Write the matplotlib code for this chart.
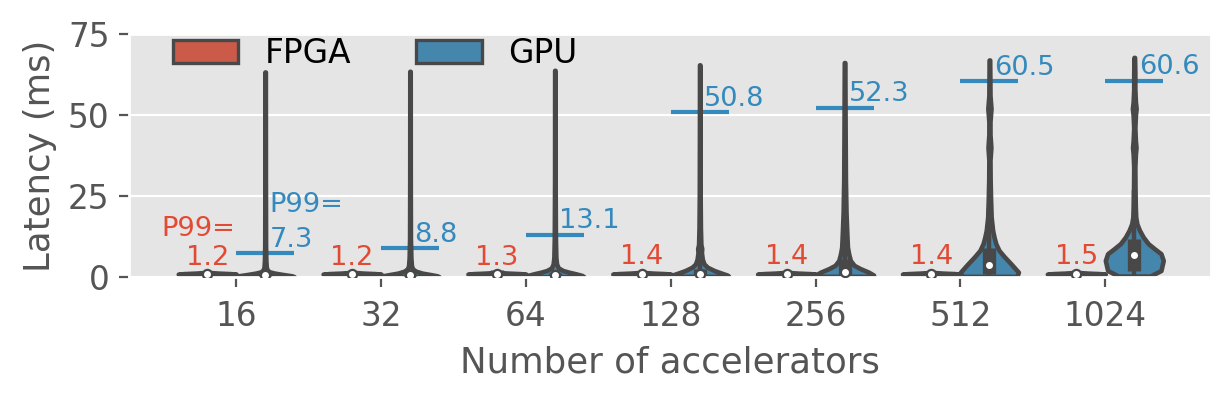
import matplotlib
matplotlib.use("Agg")
import matplotlib.pyplot as plt
import numpy as np
from matplotlib.patches import Patch

plt.style.use("ggplot")

# ---- data ----
accelerators = ["16", "32", "64", "128", "256", "512", "1024"]
fpga_p99 = [1.2, 1.2, 1.3, 1.4, 1.4, 1.4, 1.5]
gpu_p99 = [7.3, 8.8, 13.1, 50.8, 52.3, 60.5, 60.6]

fpga_median = [0.9, 0.9, 0.9, 1.0, 1.0, 1.0, 1.0]
fpga_q1 = [0.8, 0.8, 0.6, 0.85, 0.85, 0.85, 0.85]
fpga_q3 = [1.0, 1.0, 2.2, 1.1, 1.1, 1.1, 1.1]

gpu_median = [0.6, 0.6, 0.7, 0.8, 1.5, 3.8, 6.9]
gpu_q1 = [0.4, 0.4, 0.5, 0.5, 0.6, 0.8, 1.8]
gpu_q3 = [0.9, 1.0, 1.2, 2.5, 5.5, 9.0, 11.8]

# violin outlines: latency levels and relative density at each level
fpga_levels = [0.6, 0.75, 0.9, 1.05, 1.2, 1.35]
fpga_density = [0.5, 0.9, 1.0, 0.8, 0.4, 0.15]

gpu_levels = [
    [0.1, 0.4, 0.8, 1.2, 1.6, 2.2, 3, 5, 10, 30, 63.3],
    [0.1, 0.4, 0.8, 1.2, 1.8, 2.5, 3.5, 6, 12, 30, 63.5],
    [0.1, 0.5, 1.0, 1.5, 2.0, 2.8, 4, 6, 12, 30, 63.8],
    [0.2, 0.6, 1.2, 2.0, 3.0, 4.0, 5.5, 7.5, 8.8, 10, 15, 25, 45, 65.5],
    [0.2, 0.6, 1.5, 2.6, 3.6, 5.1, 7.2, 9.2, 13, 20, 30, 45, 66.2],
    [0.2, 1.5, 4.1, 6.2, 8.2, 10.3, 12.3, 14.4, 18.5, 24, 30, 36, 40, 44,
     48, 52, 56, 62, 67],
    [0.3, 2, 5.1, 7.2, 8.7, 10.3, 12.3, 14.4, 16.4, 18.5, 22, 28, 34, 38,
     40, 42, 46, 50, 52, 54, 58, 63, 67.8],
]
gpu_density = [
    [1.0, 0.9, 0.6, 0.33, 0.15, 0.07, 0.04, 0.025, 0.015, 0.01, 0.008],
    [1.0, 0.92, 0.68, 0.42, 0.2, 0.09, 0.05, 0.03, 0.015, 0.01, 0.008],
    [1.0, 0.93, 0.72, 0.48, 0.28, 0.12, 0.06, 0.035, 0.02, 0.01, 0.008],
    [1.0, 0.95, 0.75, 0.5, 0.27, 0.15, 0.09, 0.06, 0.07, 0.04, 0.025,
     0.015, 0.01, 0.008],
    [1.0, 1.0, 0.83, 0.54, 0.33, 0.2, 0.14, 0.1, 0.08, 0.05, 0.03, 0.02,
     0.01],
    [0.95, 1.0, 0.74, 0.52, 0.33, 0.22, 0.16, 0.11, 0.06, 0.04, 0.025,
     0.02, 0.05, 0.02, 0.02, 0.055, 0.02, 0.015, 0.01],
    [0.55, 0.92, 1.0, 0.92, 0.7, 0.48, 0.31, 0.18, 0.09, 0.05, 0.035,
     0.025, 0.02, 0.04, 0.06, 0.04, 0.02, 0.04, 0.065, 0.04, 0.02, 0.02,
     0.01],
]

# ---- style ----
fpga_col = "#CC5A49"
gpu_col = "#4586AC"
red_txt = "#E24A33"
blue_txt = "#348ABD"
gray = "#484848"

fig = plt.figure(figsize=(6.16, 1.98), dpi=200)
ax = fig.add_axes([0.1047, 0.3005, 0.983 - 0.1047, 0.914 - 0.3005])

x = np.arange(len(accelerators))
fpga_x = x - 0.2
gpu_x = x + 0.2


def draw_group(pos, levels, dens, med, q1, q3, color):
    stats = []
    for lv, dn, m in zip(levels, dens, med):
        stats.append(dict(coords=np.array(lv), vals=np.array(dn), mean=m,
                          median=m, min=lv[0], max=lv[-1]))
    parts = ax.violin(stats, positions=pos, widths=0.4, showmeans=False,
                      showextrema=False, showmedians=False)
    for b in parts["bodies"]:
        b.set_facecolor(color)
        b.set_edgecolor(gray)
        b.set_linewidth(1.65)
        b.set_alpha(1)
        b.set_joinstyle("round")
        b.set_zorder(2)
    for p, lv, m, a, c in zip(pos, levels, med, q1, q3):
        iqr = c - a
        lo = max(lv[0], a - 1.5 * iqr)
        hi = min(lv[-1], c + 1.5 * iqr)
        ax.vlines(p, lo, hi, color=gray, lw=1.6, zorder=3)
        ax.vlines(p, a, c, color=gray, lw=4.8, zorder=3)
    ax.scatter(pos, med, s=11, c="white", edgecolors=gray, linewidths=0.8,
               zorder=4)


draw_group(fpga_x, [fpga_levels] * len(x), [fpga_density] * len(x),
           fpga_median, fpga_q1, fpga_q3, fpga_col)
draw_group(gpu_x, gpu_levels, gpu_density, gpu_median, gpu_q1, gpu_q3,
           gpu_col)

# P99 markers and labels
ax.hlines(gpu_p99, gpu_x - 0.2, gpu_x + 0.2, color=blue_txt, lw=1.5,
          zorder=1.5)
for i in range(len(x)):
    ax.text(fpga_x[i], fpga_p99[i] + 2.5, f"{fpga_p99[i]}", color=red_txt,
            fontsize=9.8, ha="center", va="baseline", zorder=5)
    ax.text(gpu_x[i] + 0.03, gpu_p99[i] + 2.0, f"{gpu_p99[i]}",
            color=blue_txt, fontsize=9.8, ha="left", va="baseline", zorder=5)
ax.text(fpga_x[0] - 0.064, 12.6, "P99=", color=red_txt, fontsize=9.8,
        ha="center", va="baseline", zorder=5)
ax.text(gpu_x[0] + 0.028, 20.0, "P99=", color=blue_txt, fontsize=9.8,
        ha="left", va="baseline", zorder=5)

ax.set_xlim(-0.74, 6.73)
ax.set_ylim(0, 75)
ax.set_yticks([0, 25, 50, 75])
ax.set_xticks(x)
ax.set_xticklabels(accelerators)
ax.tick_params(labelsize=11.8, colors="#555555")
ax.tick_params(axis="x", pad=4.8)
ax.xaxis.grid(False)
ax.set_xlabel("Number of accelerators", fontsize=12.8, color="#555555",
              labelpad=4.5)
ax.set_ylabel("Latency (ms)", fontsize=12.8, color="#555555")

handles = [Patch(facecolor=fpga_col, edgecolor=gray, lw=1.2, label="FPGA"),
           Patch(facecolor=gpu_col, edgecolor=gray, lw=1.2, label="GPU")]
ax.legend(handles=handles, ncol=2, loc="upper left", frameon=False,
          fontsize=11.8, bbox_to_anchor=(0.013, 1.11))

fig.savefig("out.png", dpi=200)
